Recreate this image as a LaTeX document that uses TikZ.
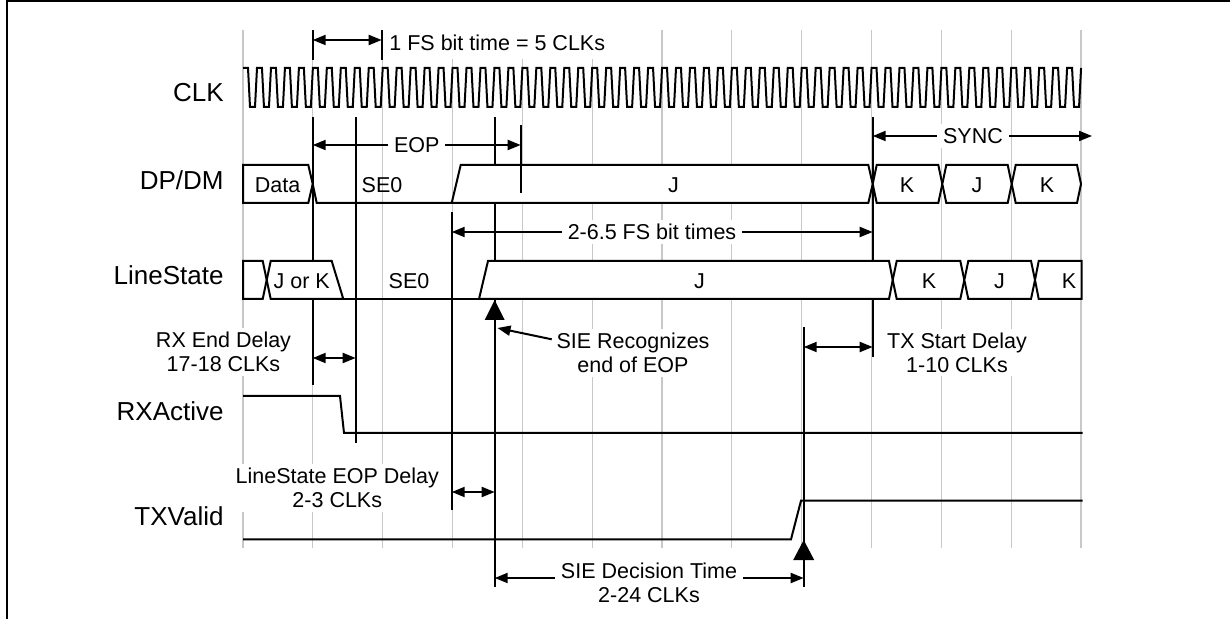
\documentclass[tikz,border=0pt]{standalone}
\usepackage{fontspec}
\setmainfont{Liberation Sans}
\usetikzlibrary{arrows.meta}
\definecolor{gridgray}{RGB}{200,200,200}

\begin{document}
\begin{tikzpicture}[x=0.5pt,y=-0.5pt,
    wave/.style={line width=1pt,line join=miter},
    bus/.style={wave,fill=white},
    vline/.style={line width=1pt},
    gridline/.style={gridgray,line width=0.6pt},
    siglabel/.style={font=\fontsize{13}{15}\selectfont,anchor=base east,inner sep=0pt},
    val/.style={font=\fontsize{10.75}{12}\selectfont,inner sep=0pt},
    boxtext/.style={val,fill=white,inner xsep=3pt,inner ysep=2pt,align=center},
    dimarrow/.style={line width=1pt,{Triangle[length=6.5pt,width=5pt]}-{Triangle[length=6.5pt,width=5pt]}},
  ]
    \useasboundingbox (0,0) rectangle (1230,619);

    % Frame
    \draw[line width=1.2pt] (7,619) -- (7,1.3) -- (1230,1.3);

    % Bit time grid
    \foreach \i in {0,...,12}
      \draw[gridline] ({243+69.83*\i},30) -- ({243+69.83*\i},548);

    % Signal names
    \node[siglabel] (clk) at (224,101.7) {CLK};
    \node[siglabel] (dpdm) at (224,190) {DP/DM};
    \node[siglabel] (ls) at (224,285) {LineState};
    \node[siglabel] (rxa) at (224,420.7) {RXActive};
    \node[siglabel] (txv) at (224,525) {TXValid};

    % Event markers
    \draw[vline] (312.7,30) -- (312.7,60);
    \draw[vline] (381.7,30) -- (381.7,60);
    \draw[vline] (312.7,117) -- (312.7,385);
    \draw[vline] (355.7,117) -- (355.7,443);
    \draw[vline] (451.7,212) -- (451.7,510);
    \draw[vline] (872.7,117) -- (872.7,357);
    \draw[line width=1.2pt] (494.7,117) -- (494.7,587);
    \draw[line width=1.2pt] (803.7,327) -- (803.7,587);
    \fill (484.7,320) -- (494.7,300) -- (504.7,320) -- cycle;
    \fill (793.2,560) -- (803.7,540) -- (814.2,560) -- cycle;

    % CLK
    \draw[wave] (243,68) -- (248,68)
      \foreach \k in {1,...,59} { -- ++(2,39) -- ++(5,0) -- ++(2,-39) -- ++(4.967,0) }
      -- ++(2,39) -- ++(5,0) -- ++(2,-39);

    % DP/DM
    \draw[bus] (308.3,165) -- (243,165) -- (243,203) -- (308.3,203) -- (312.7,184) -- cycle;
    \draw[wave] (312.7,184) -- (316.7,203) -- (451.7,203);
    \draw[bus] (451.7,203) -- (460.7,165) -- (868.3,165) -- (872.7,184) -- (868.3,203) -- cycle;
    \foreach \a/\b in {872.7/942.3,942.3/1011.7,1011.7/1081}
      \draw[bus] (\a,184) -- ({\a+4},165) -- ({\b-4},165) -- (\b,184) -- ({\b-4},203)
        -- ({\a+4},203) -- cycle;
    \draw[vline] (520.7,125) -- (520.7,193);
    \node[val] (data) at (277.5,185) {Data};
    \node[val] (dse0) at (382,185) {SE0};
    \node[val] (dj) at (673.5,185) {J};
    \node[val] (dk1) at (907,185) {K};
    \node[val] (dj2) at (977,185) {J};
    \node[val] (dk2) at (1047,185) {K};

    % LineState
    \draw[bus] (262.7,261) -- (243,261) -- (243,299) -- (262.7,299) -- (266.7,280) -- cycle;
    \draw[bus] (266.7,280) -- (270.7,261) -- (331.7,261) -- (343.3,299) -- (270.7,299) -- cycle;
    \draw[wave] (343.3,299) -- (479,299);
    \draw[bus] (479,299) -- (488,261) -- (889,261) -- (892.7,280) -- (889,299) -- cycle;
    \foreach \a/\b in {892.7/964.3,964.3/1035}
      \draw[bus] (\a,280) -- ({\a+4},261) -- ({\b-4},261) -- (\b,280) -- ({\b-4},299)
        -- ({\a+4},299) -- cycle;
    \draw[bus] (1081.7,261) -- (1038.7,261) -- (1035,280) -- (1038.7,299) -- (1081.7,299) -- cycle;
    \node[val] (ljk) at (301.7,281) {J or K};
    \node[val] (lse0) at (409,281) {SE0};
    \node[val] (lj) at (699.5,281) {J};
    \node[val] (lk1) at (929,281) {K};
    \node[val] (lj2) at (999.5,281) {J};
    \node[val] (lk2) at (1069,281) {K};

    % RXActive and TXValid
    \draw[wave] (243,396) -- (340,396) -- (344,433) -- (1082.7,433);
    \draw[wave] (243,539.3) -- (791,539.3) -- (801,500.7) -- (1082.7,500.7);

    % Timing spans
    \draw[dimarrow] (312.7,40) -- (381.7,40);
    \node[val,fill=white,anchor=west,inner xsep=2pt,inner ysep=4pt] (fsbit) at (385,43.3)
      {1 FS bit time = 5 CLKs};
    \draw[dimarrow] (312.7,145) -- (520.7,145);
    \node[boxtext] (eop) at (416.7,145) {EOP};
    \draw[dimarrow] (872.7,136) -- (1092,136);
    \node[boxtext] (sync) at (973,136) {SYNC};
    \draw[dimarrow] (451.7,232) -- (872.7,232);
    \node[boxtext] (fsb) at (652,232) {2-6.5 FS bit times};

    \draw[dimarrow] (312.7,358) -- (355.7,358);
    \node[boxtext] (rxend) at (223.5,352.3) {RX End Delay\\17-18 CLKs};
    \draw[dimarrow] (803.7,347) -- (872.7,347);
    \node[boxtext] (txstart) at (957,352.5) {TX Start Delay\\1-10 CLKs};
    \draw[dimarrow] (451.7,492) -- (494.7,492);
    \node[boxtext] (lseop) at (337.3,487.8) {LineState EOP Delay\\2-3 CLKs};
    \draw[dimarrow] (494.7,578) -- (803.7,578);
    \node[boxtext] (siedec) at (649,583) {SIE Decision Time\\2-24 CLKs};

    \node[boxtext] (sierec) at (633,353) {SIE Recognizes\\end of EOP};
    \draw[line width=1pt,-{Triangle[length=6.5pt,width=5pt]}] (551.7,339.3) -- (497.5,328);
  \end{tikzpicture}
\end{document}
